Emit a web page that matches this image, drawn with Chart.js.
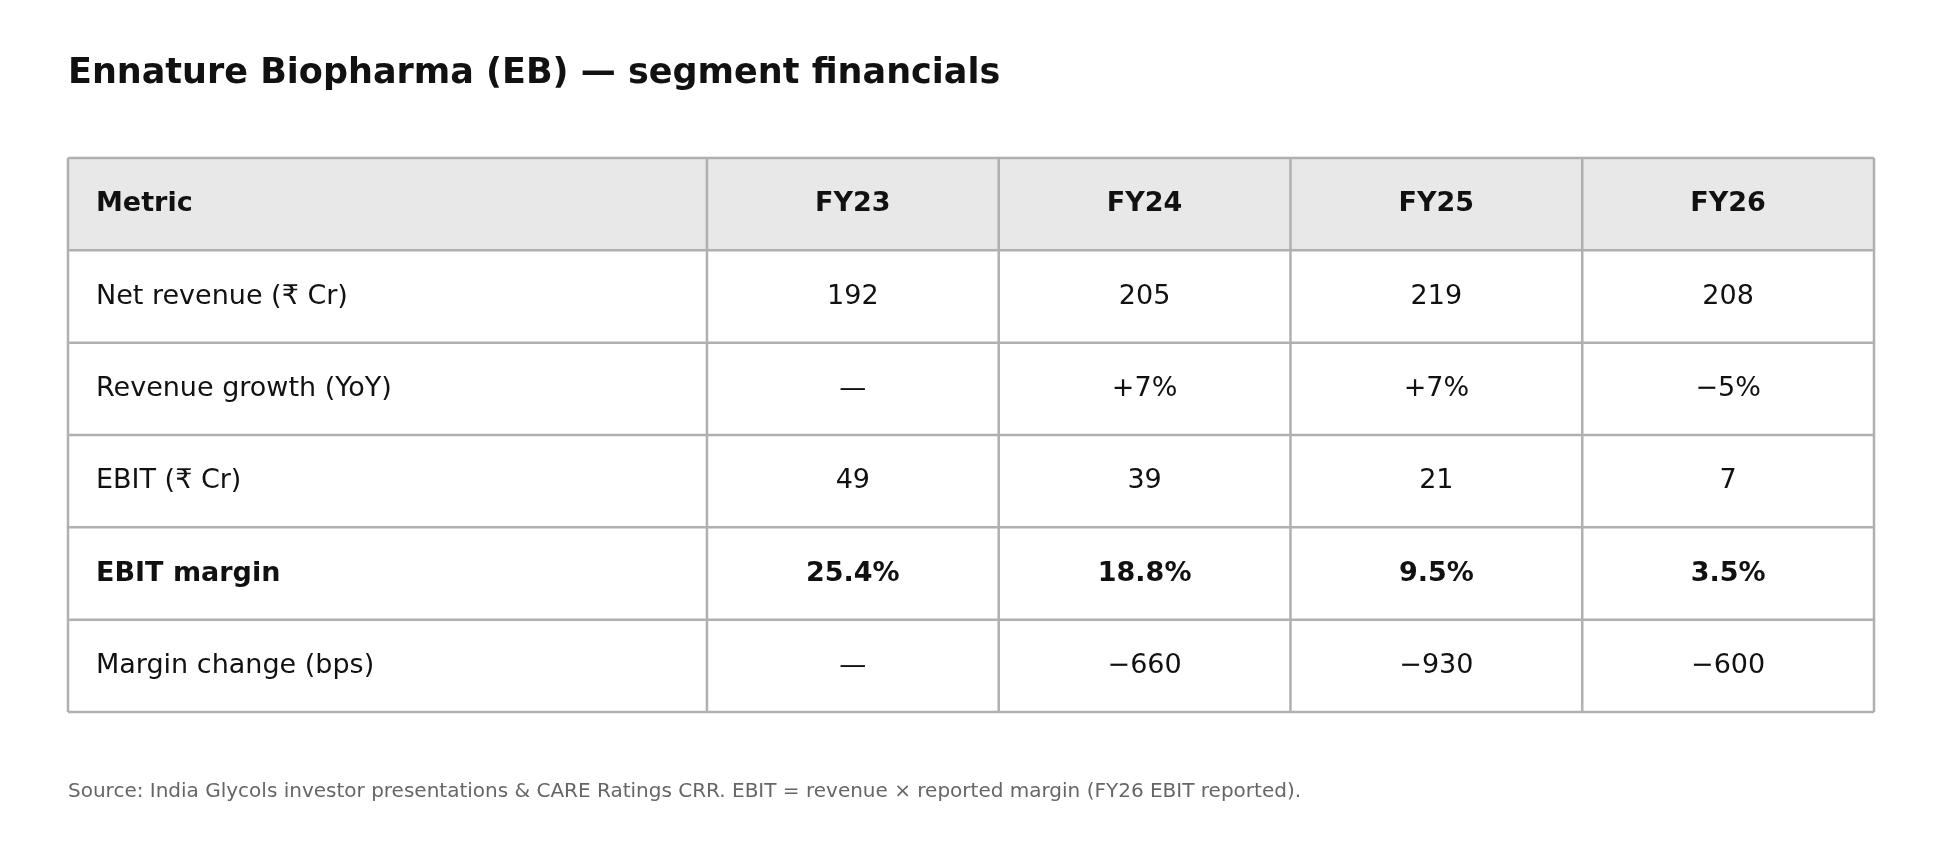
<!DOCTYPE html>
<html><head><meta charset="utf-8">
<script src="https://cdn.jsdelivr.net/npm/chart.js@4"></script>
<style>html,body{margin:0;padding:0;background:#fff}#w{width:1941px;height:863px}</style>
</head><body><div id="w"><canvas id="c"></canvas></div>
<script>
const title = "Ennature Biopharma (EB) — segment financials";
const source = "Source: India Glycols investor presentations & CARE Ratings CRR. EBIT = revenue × reported margin (FY26 EBIT reported).";
const columns = ["Metric","FY23","FY24","FY25","FY26"];
const rowLabels = ["Net revenue (₹ Cr)","Revenue growth (YoY)","EBIT (₹ Cr)","EBIT margin","Margin change (bps)"];
const netRevenue = ["192","205","219","208"];
const revenueGrowth = ["—","+7%","+7%","−5%"];
const ebit = ["49","39","21","7"];
const ebitMargin = ["25.4%","18.8%","9.5%","3.5%"];
const marginChange = ["—","−660","−930","−600"];
const boldRows = [false,false,false,true,false];
const rows = [netRevenue, revenueGrowth, ebit, ebitMargin, marginChange];
const colEdges = [0, 2.19, 3.19, 4.19, 5.19, 6.19];

const FONT = "'DejaVu Sans', sans-serif";
const tablePlugin = {
  id: 'table',
  afterDraw(chart) {
    const ctx = chart.ctx, xs = chart.scales.x, ys = chart.scales.y;
    const X = v => xs.getPixelForValue(v), Y = v => ys.getPixelForValue(v);
    const nRows = rows.length + 1;
    ctx.save();
    // header bg
    ctx.fillStyle = '#e8e8e8';
    ctx.fillRect(X(0), Y(0), X(colEdges[5]) - X(0), Y(1) - Y(0));
    // text
    ctx.textBaseline = 'middle';
    const drawRow = (r, cells, bold) => {
      const yc = (Y(r) + Y(r + 1)) / 2;
      ctx.font = (bold ? 'bold ' : '') + '27px ' + FONT;
      ctx.fillStyle = '#111';
      cells.forEach((t, i) => {
        if (i === 0) { ctx.textAlign = 'left'; ctx.fillText(t, X(0) + 28, yc); }
        else { ctx.textAlign = 'center'; ctx.fillText(t, (X(colEdges[i]) + X(colEdges[i + 1])) / 2, yc); }
      });
    };
    drawRow(0, columns, true);
    rows.forEach((vals, i) => drawRow(i + 1, [rowLabels[i], ...vals], boldRows[i]));
    // grid
    ctx.strokeStyle = '#b0b0b0'; ctx.lineWidth = 2.5;
    ctx.beginPath();
    for (let r = 0; r <= nRows; r++) { ctx.moveTo(X(0), Y(r)); ctx.lineTo(X(colEdges[5]), Y(r)); }
    colEdges.forEach(c => { ctx.moveTo(X(c), Y(0)); ctx.lineTo(X(c), Y(nRows)); });
    ctx.stroke();
    // title & source
    ctx.textAlign = 'left'; ctx.textBaseline = 'middle';
    ctx.fillStyle = '#111'; ctx.font = 'bold 35px ' + FONT;
    ctx.fillText(title, X(0), 74);
    ctx.fillStyle = '#666'; ctx.font = '20px ' + FONT;
    ctx.fillText(source, X(0), 792);
    ctx.restore();
  }
};
new Chart(document.getElementById('c'), {
  type: 'scatter',
  data: { datasets: [{ data: [] }] },
  options: {
    responsive: true, maintainAspectRatio: false, animation: false,
    layout: { padding: { left: 68, right: 1941 - 1874, top: 158, bottom: 863 - 712 } },
    plugins: { legend: { display: false }, tooltip: { enabled: false } },
    scales: {
      x: { type: 'linear', min: 0, max: 6.19, display: false },
      y: { type: 'linear', min: 0, max: 6, reverse: true, display: false }
    }
  },
  plugins: [tablePlugin]
});
</script></body></html>
